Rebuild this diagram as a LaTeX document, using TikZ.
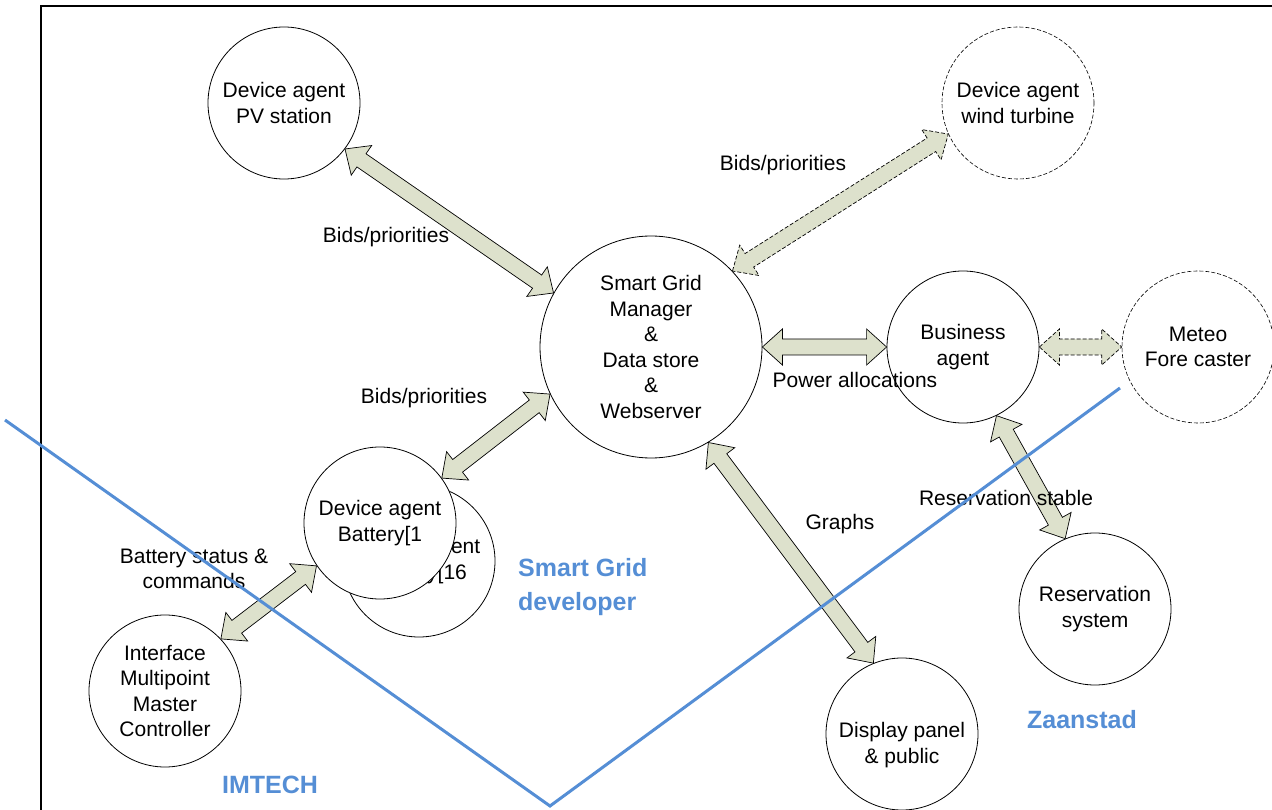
\documentclass[tikz,border=0pt]{standalone}
\usepackage{fontspec}
\setmainfont{Liberation Sans}
\usetikzlibrary{calc}
\definecolor{arrfill}{RGB}{221,225,204}
\definecolor{zoneblue}{RGB}{85,142,213}
\tikzset{
  agent/.style={circle, draw, line width=0.8pt, fill=white, minimum size=152pt, inner sep=0pt, align=center, font=\fontsize{21}{25.5}\selectfont},
  ghost/.style={agent, dash pattern=on 4pt off 2pt, line width=0.6pt},
  lbl/.style={align=center, font=\fontsize{21}{25.5}\selectfont, inner sep=0pt},
  zone/.style={font=\bfseries\fontsize{25}{34}\selectfont, text=zoneblue, inner sep=0pt},
  fat/.style={draw, fill=arrfill, line width=0.7pt, line join=miter},
  fatdashed/.style={dash pattern=on 4pt off 2pt},
  boundary/.style={draw=zoneblue, line width=3pt},
  frameline/.style={line width=2pt}
}
\newcommand\fatarrow[3][]{%
  \path[fat,#1] let \p1=(#2), \p2=(#3),
      \n1={atan2(\y2-\y1,\x2-\x1)}, \n2={veclen(\x2-\x1,\y2-\y1)} in
    [shift={(\p1)}, rotate=\n1]
    (0pt,0pt) -- (20pt,18pt) -- (20pt,8pt) -- ({\n2-20pt},8pt) -- ({\n2-20pt},18pt)
    -- (\n2,0pt) -- ({\n2-20pt},-18pt) -- ({\n2-20pt},-8pt) -- (20pt,-8pt) -- (20pt,-18pt) -- cycle;}
\begin{document}
\begin{tikzpicture}[x=1pt,y=-1pt]
\useasboundingbox (0,0) rectangle (1272,810);
% frame
\draw[frameline] (41,810) -- (41,6) -- (1272,6);
% agents
\node[agent] (pv) at (284,103) {Device agent\\PV station};
\node[ghost] (wind) at (1018,103) {Device agent\\wind turbine};
\node[agent, minimum size=222pt] (sgm) at (651,347) {Smart Grid\\Manager\\\&\\Data store\\\&\\Webserver};
\node[agent] (biz) at (963,347) {Business\\agent};
\node[ghost] (meteo) at (1198,347) {Meteo\\Fore caster};
\node[agent] (battB) at (419,561) {Device agent\\Battery[16};
\node[agent] (batt) at (380,523) {Device agent\\Battery[1};
\node[agent] (iface) at (165,691) {Interface\\Multipoint\\Master\\Controller};
\node[agent] (res) at (1095,609) {Reservation\\system};
\node[agent] (disp) at (902,734) {};
\node[lbl] (disptext) at (902,745) {Display panel\\\& public};
% connectors
\fatarrow{pv.-37}{sgm.151}
\fatarrow[fatdashed]{sgm.43}{wind.-156}
\fatarrow{sgm.0}{biz.180}
\fatarrow[fatdashed]{biz.0}{meteo.180}
\fatarrow{batt.36}{sgm.205}
\fatarrow{iface.43}{batt.214}
\fatarrow{sgm.-59}{disp.112}
\fatarrow{biz.-64}{res.113}
% labels
\node[lbl] (l1) at (386,237) {Bids/priorities};
\node[lbl] (l2) at (783,165) {Bids/priorities};
\node[lbl] (l3) at (424,398) {Bids/priorities};
\node[lbl] (l4) at (855,380) {Power allocations};
\node[lbl] (l5) at (1006,498) {Reservation stable};
\node[lbl] (l6) at (840,524) {Graphs};
\node[lbl] (l7) at (194,569) {Battery status \&\\commands};
% zones
\node[zone, align=left, anchor=west] (z1) at (518,587) {Smart Grid\\developer};
\node[zone] (z2) at (270,785) {IMTECH};
\node[zone] (z3) at (1082,720) {Zaanstad};
\coordinate (b1) at (5,420);
\coordinate (b2) at (550,806);
\coordinate (b3) at (1120,388);
\draw[boundary] (b1) -- (b2) -- (b3);
\end{tikzpicture}
\end{document}
